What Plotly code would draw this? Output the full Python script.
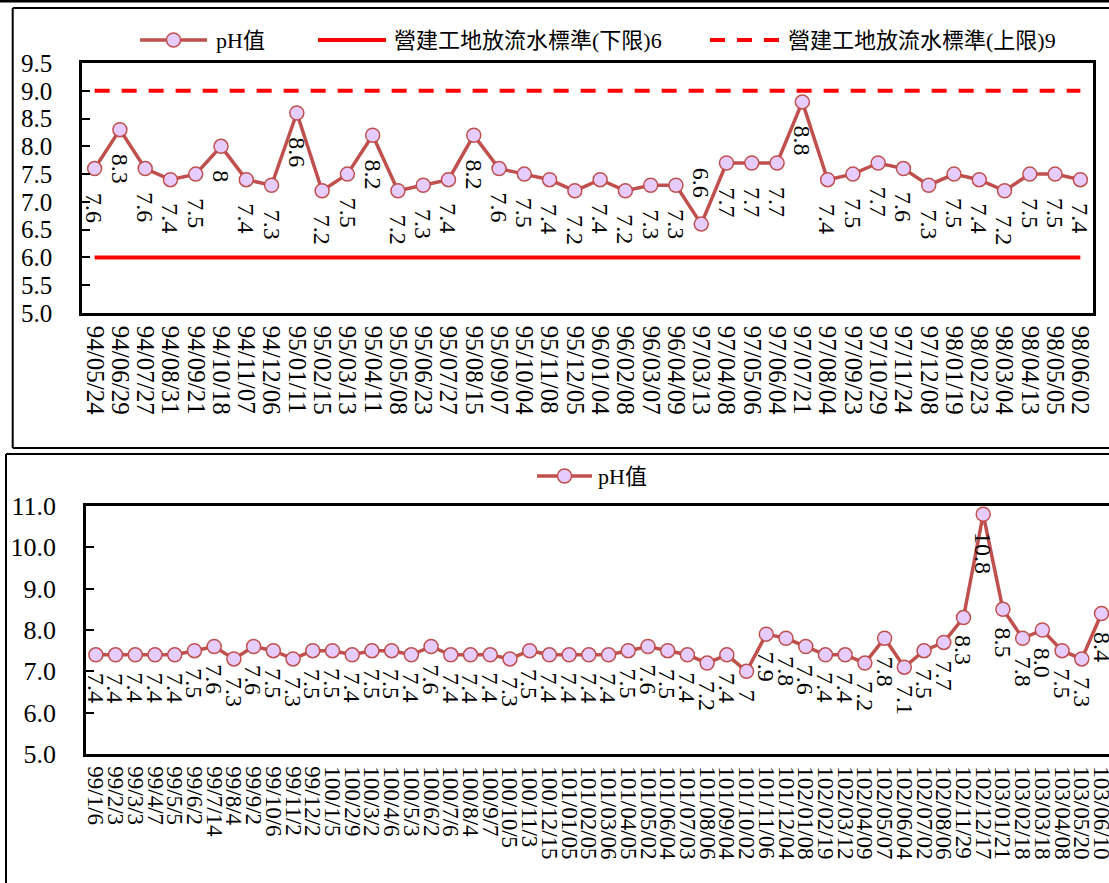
import plotly.graph_objects as go

# ---- data -------------------------------------------------------------
TOP_DATES = [
    "94/05/24", "94/06/29", "94/07/27", "94/08/31", "94/09/21", "94/10/18",
    "94/11/07", "94/12/06", "95/01/11", "95/02/15", "95/03/13", "95/04/11",
    "95/05/08", "95/06/23", "95/07/27", "95/08/15", "95/09/07", "95/10/04",
    "95/11/08", "95/12/05", "96/01/04", "96/02/08", "96/03/07", "96/04/09",
    "97/03/13", "97/04/08", "97/05/06", "97/06/04", "97/07/21", "97/08/04",
    "97/09/23", "97/10/29", "97/11/24", "97/12/08", "98/01/19", "98/02/23",
    "98/03/04", "98/04/13", "98/05/05", "98/06/02",
]
TOP_PH = [
    "7.6", "8.3", "7.6", "7.4", "7.5", "8", "7.4", "7.3", "8.6", "7.2",
    "7.5", "8.2", "7.2", "7.3", "7.4", "8.2", "7.6", "7.5", "7.4", "7.2",
    "7.4", "7.2", "7.3", "7.3", "6.6", "7.7", "7.7", "7.7", "8.8", "7.4",
    "7.5", "7.7", "7.6", "7.3", "7.5", "7.4", "7.2", "7.5", "7.5", "7.4",
]
LOWER_LIMIT = 6
UPPER_LIMIT = 9

BOTTOM_DATES = [
    "99/1/6", "99/2/3", "99/3/3", "99/4/7", "99/5/5", "99/6/2", "99/7/14",
    "99/8/4", "99/9/2", "99/10/6", "99/11/2", "99/12/2", "100/1/5", "100/2/9",
    "100/3/2", "100/4/6", "100/5/3", "100/6/2", "100/7/6", "100/8/4",
    "100/9/7", "100/10/5", "100/11/3", "100/12/15", "101/01/05", "101/02/05",
    "101/03/06", "101/04/05", "101/05/02", "101/06/04", "101/07/03",
    "101/08/06", "101/09/04", "101/10/02", "101/11/06", "101/12/04",
    "102/01/08", "102/02/19", "102/03/12", "102/04/09", "102/05/07",
    "102/06/04", "102/07/02", "102/08/06", "102/11/29", "102/12/17",
    "103/01/21", "103/02/18", "103/03/18", "103/04/08", "103/05/20",
    "103/06/10",
]
BOTTOM_PH = [
    "7.4", "7.4", "7.4", "7.4", "7.4", "7.5", "7.6", "7.3", "7.6", "7.5",
    "7.3", "7.5", "7.5", "7.4", "7.5", "7.5", "7.4", "7.6", "7.4", "7.4",
    "7.4", "7.3", "7.5", "7.4", "7.4", "7.4", "7.4", "7.5", "7.6", "7.5",
    "7.4", "7.2", "7.4", "7", "7.9", "7.8", "7.6", "7.4", "7.4", "7.2",
    "7.8", "7.1", "7.5", "7.7", "8.3", "10.8", "8.5", "7.8", "8.0", "7.5",
    "7.3", "8.4",
]

# labels drawn above their point instead of below
LABELS_ABOVE = {"97/03/13"}

SERIES_NAME = "pH值"
LOWER_NAME = "營建工地放流水標準(下限)6"
UPPER_NAME = "營建工地放流水標準(上限)9"

# ---- styling ----------------------------------------------------------
W, H = 1109, 883
FONT = "Liberation Serif, Noto Sans CJK TC"
LINE_RED = "#C0504D"
MARKER_FILL = "#E6CCFF"
LIMIT_RED = "#FF0000"


def px(x):
    return x / W


def py(y):
    return 1 - y / H


top_vals = [float(v) for v in TOP_PH]
bottom_vals = [float(v) for v in BOTTOM_PH]

fig = go.Figure()

# limit lines (top panel)
fig.add_trace(go.Scatter(
    x=TOP_DATES, y=[LOWER_LIMIT] * len(TOP_DATES), mode="lines",
    line=dict(color=LIMIT_RED, width=4), xaxis="x", yaxis="y",
    showlegend=False, hoverinfo="skip"))
fig.add_trace(go.Scatter(
    x=TOP_DATES, y=[UPPER_LIMIT] * len(TOP_DATES), mode="lines",
    line=dict(color=LIMIT_RED, width=4, dash="15px,12px"), xaxis="x", yaxis="y",
    showlegend=False, hoverinfo="skip"))

marker_style = dict(size=14, color=MARKER_FILL, line=dict(color=LINE_RED, width=1.5))

fig.add_trace(go.Scatter(
    x=TOP_DATES, y=top_vals, mode="lines+markers",
    line=dict(color=LINE_RED, width=3.5), marker=marker_style,
    xaxis="x", yaxis="y", showlegend=False))
fig.add_trace(go.Scatter(
    x=BOTTOM_DATES, y=bottom_vals, mode="lines+markers",
    line=dict(color=LINE_RED, width=3.5), marker=marker_style,
    xaxis="x2", yaxis="y2", showlegend=False))

annotations = []

# rotated value labels
for d, txt, v in zip(TOP_DATES, TOP_PH, top_vals):
    above = d in LABELS_ABOVE
    annotations.append(dict(
        x=d, y=v, xref="x", yref="y", text=txt, textangle=90, showarrow=False,
        yanchor="bottom" if above else "top", yshift=24 if above else -22,
        font=dict(family=FONT, size=24, color="black")))
for d, txt, v in zip(BOTTOM_DATES, BOTTOM_PH, bottom_vals):
    annotations.append(dict(
        x=d, y=v, xref="x2", yref="y2", text=txt, textangle=90, showarrow=False,
        yanchor="top", yshift=-16,
        font=dict(family=FONT, size=24, color="black")))

shapes = []


def legend_item(x0, x1, y, text, text_x, kind):
    if kind == "series":
        shapes.append(dict(type="line", xref="paper", yref="paper",
                           x0=px(x0), x1=px(x1), y0=py(y), y1=py(y),
                           line=dict(color=LINE_RED, width=3.5)))
        cx = (x0 + x1) / 2
        shapes.append(dict(type="circle", xref="paper", yref="paper",
                           x0=px(cx - 7), x1=px(cx + 7), y0=py(y + 7), y1=py(y - 7),
                           fillcolor=MARKER_FILL, line=dict(color=LINE_RED, width=1.5)))
    else:
        shapes.append(dict(type="line", xref="paper", yref="paper",
                           x0=px(x0), x1=px(x1), y0=py(y), y1=py(y),
                           line=dict(color=LIMIT_RED, width=4,
                                     dash="solid" if kind == "lower" else "15px,12px")))
    annotations.append(dict(x=px(text_x), y=py(y), xref="paper", yref="paper",
                            xanchor="left", yanchor="middle", text=text,
                            showarrow=False,
                            font=dict(family=FONT, size=22, color="black")))


legend_item(140, 207, 40, SERIES_NAME, 214, "series")
legend_item(318, 386, 40, LOWER_NAME, 392, "lower")
legend_item(710, 779, 40, UPPER_NAME, 786, "upper")
legend_item(537, 592, 476, SERIES_NAME, 596, "series")

# outer frames of both panels
frame = dict(color="black", width=2)
for x0, y0, x1, y1 in [
    (0, 1, W, 1),
    (12.7, 8, W, 8), (12.7, 8, 12.7, 448), (12.7, 448, W, 448),
    (6, 454, W, 454), (6, 454, 6, H + 5),
]:
    shapes.append(dict(type="line", xref="paper", yref="paper",
                       x0=px(x0), x1=px(x1), y0=py(y0), y1=py(y1),
                       line=frame if (x0, y0) != (0, 1) else dict(color="black", width=3)))

axis_common = dict(showline=True, linecolor="black", linewidth=2.5,
                   showgrid=False, zeroline=False, automargin=False)

fig.update_layout(
    width=W, height=H, autosize=False,
    margin=dict(l=0, r=0, t=0, b=0),
    paper_bgcolor="white", plot_bgcolor="white",
    showlegend=False,
    font=dict(family=FONT, color="black"),
    xaxis=dict(domain=[px(82), px(1093)], anchor="y", type="category",
               range=[-0.5, len(TOP_DATES) - 0.5], mirror=True, ticks="",
               tickmode="array", tickvals=TOP_DATES, ticktext=TOP_DATES,
               tickangle=90, ticklabelstandoff=5,
               tickfont=dict(family=FONT, size=25, color="black"), **axis_common),
    yaxis=dict(domain=[py(313), py(63)], anchor="x", range=[5, 9.5],
               tick0=5, dtick=0.5, tickformat=".1f", mirror=True,
               ticks="inside", ticklen=8, tickwidth=2, tickcolor="black",
               ticklabelstandoff=22,
               tickfont=dict(family=FONT, size=25, color="black"), **axis_common),
    xaxis2=dict(domain=[px(86), 1.0], anchor="y2", type="category",
                range=[-0.5, 51.38], mirror=True, ticks="",
                tickmode="array", tickvals=BOTTOM_DATES, ticktext=BOTTOM_DATES,
                tickangle=90, ticklabelstandoff=5,
                tickfont=dict(family=FONT, size=23, color="black"), **axis_common),
    yaxis2=dict(domain=[py(754), py(506)], anchor="x2", range=[5, 11],
                tick0=5, dtick=1, tickformat=".1f", mirror=False,
                ticks="inside", ticklen=8, tickwidth=2, tickcolor="black",
                ticklabelstandoff=22,
                tickfont=dict(family=FONT, size=26, color="black"), **axis_common),
    annotations=annotations,
    shapes=shapes,
)

fig.write_html("out.html")
